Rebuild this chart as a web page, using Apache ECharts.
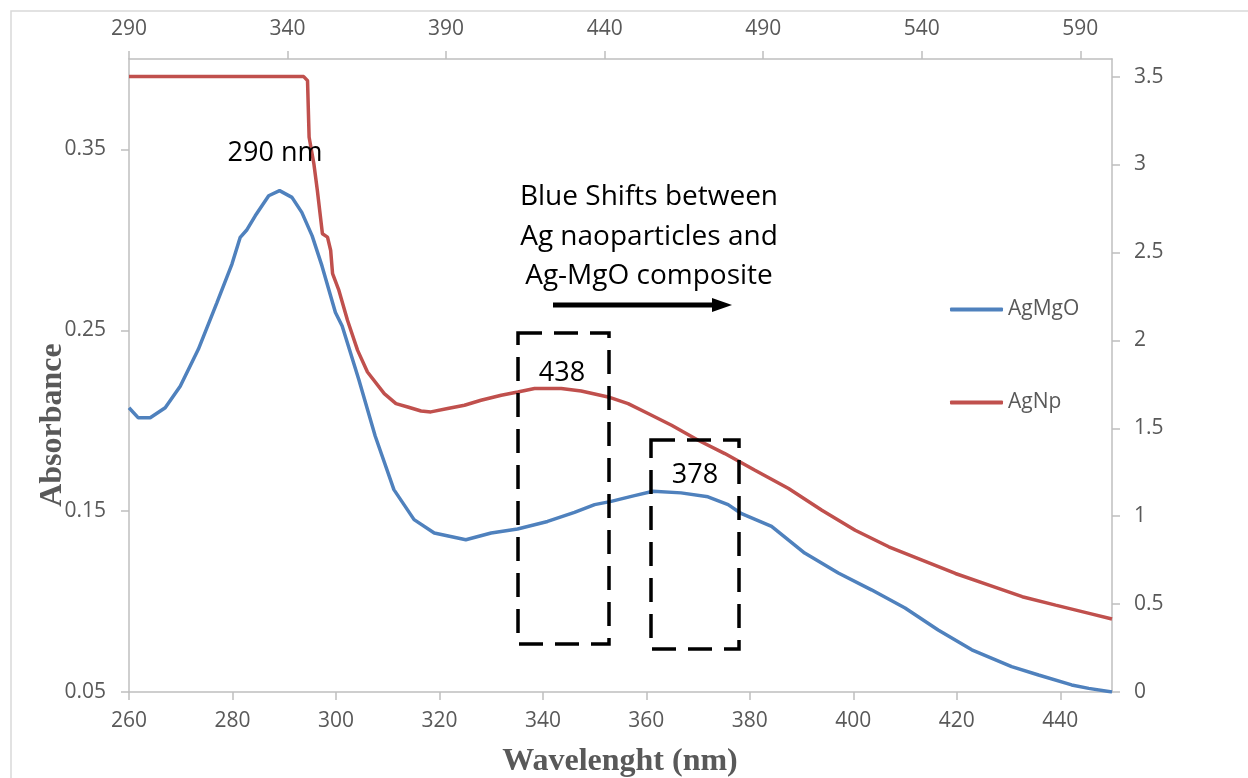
<!DOCTYPE html>
<html>
<head>
<meta charset="utf-8">
<script src="https://cdn.jsdelivr.net/npm/echarts@6/dist/echarts.min.js"></script>
<style>
html,body{margin:0;padding:0;background:#fff;}
#chart{width:1248px;height:778px;}
</style>
</head>
<body>
<div id="chart"></div>
<script>
// AgMgO (bottom x axis, left y axis)
var blueWavelength = [260, 261.8, 264.1, 267.0, 269.9, 273.4, 277.0, 279.9, 281.5, 282.8, 284.4, 287.0, 289.1, 291.5, 293.4, 295.4, 297.3, 299.9, 301.2, 304.4, 307.6, 311.2, 315.1, 319.0, 325.1, 330.0, 335.1, 340.9, 346.1, 350.0, 353.2, 357.7, 361.3, 366.7, 371.9, 375.8, 378.4, 384.2, 390.6, 397.1, 403.5, 410.0, 416.4, 422.9, 430.6, 435.8, 442.2, 445.5, 450];
var blueAbsorbance = [0.2072, 0.2016, 0.2016, 0.2072, 0.2191, 0.2395, 0.2653, 0.2866, 0.3014, 0.3056, 0.3133, 0.3244, 0.3272, 0.3235, 0.3152, 0.3022, 0.2856, 0.2598, 0.2524, 0.2229, 0.1914, 0.1619, 0.1453, 0.1379, 0.1342, 0.1379, 0.1401, 0.1443, 0.1493, 0.1536, 0.1554, 0.1586, 0.1610, 0.1601, 0.1579, 0.1536, 0.1486, 0.1416, 0.1268, 0.1158, 0.1065, 0.0964, 0.0843, 0.0733, 0.0640, 0.0594, 0.0539, 0.0520, 0.0500];

// AgNp (top x axis, right y axis)
var redWavelength = [290, 345.1, 346.3, 346.8, 348.3, 349.4, 351.0, 352.6, 353.6, 354.2, 356.2, 358.9, 362.1, 365.2, 370.5, 374.2, 377.9, 382.1, 385.2, 390.5, 395.8, 401.0, 407.4, 412.6, 417.9, 426.3, 432.6, 441.1, 447.4, 453.7, 461.1, 469.5, 477.9, 487.4, 498.0, 508.5, 519.0, 529.6, 540.1, 550.6, 561.2, 571.7, 582.2, 592.8, 600];
var redAbsorbance = [3.5, 3.5, 3.477, 3.155, 3.004, 2.852, 2.606, 2.587, 2.511, 2.379, 2.284, 2.114, 1.943, 1.820, 1.697, 1.640, 1.621, 1.598, 1.593, 1.612, 1.631, 1.659, 1.688, 1.706, 1.726, 1.726, 1.712, 1.678, 1.640, 1.584, 1.517, 1.432, 1.356, 1.261, 1.157, 1.034, 0.920, 0.826, 0.750, 0.674, 0.608, 0.542, 0.494, 0.447, 0.415];

var seriesNames = ['AgMgO', 'AgNp'];
var xTitle = 'Wavelenght (nm)';
var yTitle = 'Absorbance';
var peakNote = '290 nm';
var shiftNote = ['Blue Shifts between', 'Ag naoparticles and', 'Ag-MgO composite'];
var boxLabels = ['438', '378'];

function pairs(xs, ys) { return xs.map(function (x, i) { return [x, ys[i]]; }); }

var FONT = '"Open Sans", "Liberation Sans", sans-serif';
var SERIF = '"Liberation Serif", "DejaVu Serif", serif';
var axisGrey = '#bfbfbf';
var labelGrey = '#595959';

function axisCommon() {
  return {
    axisLine: { show: true, lineStyle: { color: axisGrey, width: 1.5 } },
    axisTick: { show: true, inside: false, length: 8, lineStyle: { color: axisGrey, width: 1.5 } },
    splitLine: { show: false },
    axisLabel: { color: labelGrey, fontSize: 21, fontFamily: FONT, showMaxLabel: false }
  };
}

var chart = echarts.init(document.getElementById('chart'), null, { renderer: 'canvas' });

var xBottom = axisCommon();
Object.assign(xBottom, { type: 'value', position: 'bottom', min: 260, max: 450, interval: 20 });
xBottom.axisLabel.margin = 19;
var xTop = axisCommon();
Object.assign(xTop, { type: 'value', position: 'top', min: 290, max: 600, interval: 50 });
xTop.axisLabel.margin = 19;
var yLeft = axisCommon();
Object.assign(yLeft, { type: 'value', position: 'left', min: 0.05, max: 0.40, interval: 0.1 });
yLeft.axisLabel.margin = 23;
yLeft.axisLabel.formatter = function (v) { return v.toFixed(2); };
var yRight = axisCommon();
Object.assign(yRight, { type: 'value', position: 'right', min: 0, max: 3.6, interval: 0.5 });
yRight.axisLabel.margin = 22;

function txt(x, y, text, size, extra) {
  var s = {
    text: text, x: 0, y: 0,
    font: size + 'px ' + FONT,
    fill: '#000',
    textAlign: 'center', align: 'center',
    textVerticalAlign: 'middle', verticalAlign: 'middle'
  };
  if (extra) Object.assign(s, extra);
  return { type: 'text', x: x, y: y, z: 100, style: s };
}

var option = {
  animation: false,
  backgroundColor: '#ffffff',
  grid: { left: 129, top: 59, width: 983, height: 633, containLabel: false },
  xAxis: [xBottom, xTop],
  yAxis: [yLeft, yRight],
  legend: {
    data: seriesNames,
    orient: 'vertical',
    left: 945,
    top: 294,
    icon: 'roundRect',
    itemWidth: 53,
    itemHeight: 4,
    itemGap: 72,
    textStyle: { color: labelGrey, fontSize: 21, fontFamily: FONT }
  },
  series: [
    {
      name: seriesNames[0], type: 'line', xAxisIndex: 0, yAxisIndex: 0,
      data: pairs(blueWavelength, blueAbsorbance),
      symbol: 'none', showSymbol: false, smooth: false,
      lineStyle: { color: '#4F81BD', width: 3.5 }, itemStyle: { color: '#4F81BD' }
    },
    {
      name: seriesNames[1], type: 'line', xAxisIndex: 1, yAxisIndex: 1,
      data: pairs(redWavelength, redAbsorbance),
      symbol: 'none', showSymbol: false, smooth: false,
      lineStyle: { color: '#C0504D', width: 3.5 }, itemStyle: { color: '#C0504D' }
    }
  ],
  graphic: [
    { type: 'rect', z: -10, shape: { x: 11, y: 11, width: 1400, height: 1000 }, style: { fill: null, stroke: '#d9d9d9', lineWidth: 1.5 } },
    txt(53, 425, yTitle, 32, { font: 'bold 32px ' + SERIF, fill: labelGrey }),
    txt(620, 762, xTitle, 32, { font: 'bold 32px ' + SERIF, fill: labelGrey }),
    txt(275, 153, peakNote, 27),
    txt(649, 197, shiftNote[0], 28),
    txt(649, 237, shiftNote[1], 28),
    txt(649, 276, shiftNote[2], 28),
    txt(562, 373, boxLabels[0], 27),
    txt(695, 475, boxLabels[1], 27),
    { type: 'line', z: 100, shape: { x1: 553, y1: 305, x2: 716, y2: 305 }, style: { stroke: '#000', lineWidth: 5 } },
    { type: 'polygon', z: 100, shape: { points: [[712, 298], [732, 305], [712, 312]] }, style: { fill: '#000' } },
    { type: 'rect', z: 100, shape: { x: 518, y: 333, width: 91, height: 311 }, style: { fill: null, stroke: '#000', lineWidth: 3.5, lineDash: [24, 12] } },
    { type: 'rect', z: 100, shape: { x: 651, y: 440, width: 88, height: 209 }, style: { fill: null, stroke: '#000', lineWidth: 3.5, lineDash: [24, 12] } }
  ]
};
// rotate y title
option.graphic[1].rotation = Math.PI / 2;
chart.setOption(option);
</script>
</body>
</html>
